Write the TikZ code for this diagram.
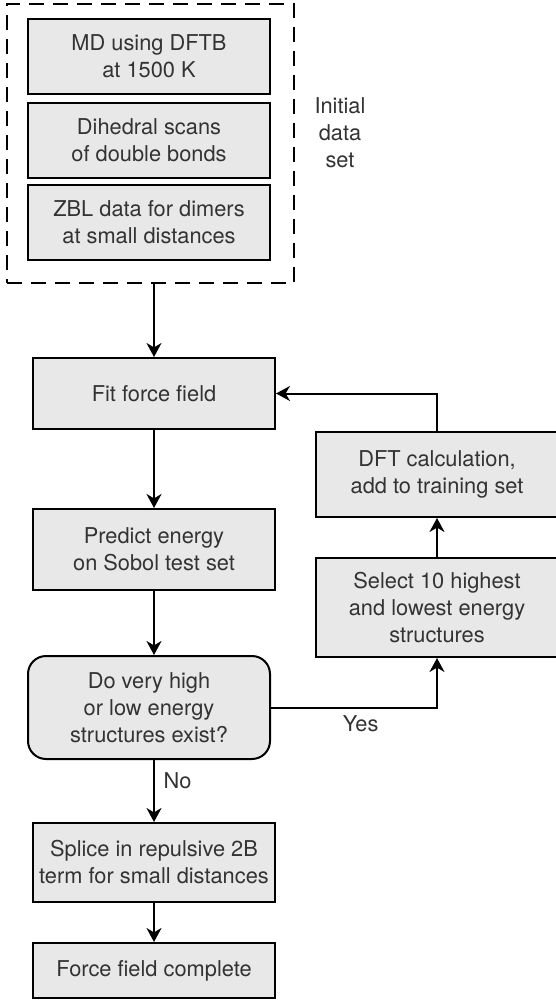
\documentclass[tikz,border=0pt]{standalone}
\usepackage{fontspec}
\setmainfont{TeX Gyre Heros}
\usepackage{tikz}
\usetikzlibrary{arrows.meta}
\definecolor{boxgray}{HTML}{E8E8E8}
\definecolor{txtgray}{HTML}{333333}

\begin{document}
\begin{tikzpicture}[x=0.5pt,y=-0.5pt,
    every node/.style={text=txtgray,font=\fontsize{10.9}{13.5}\selectfont,align=center},
    box/.style={draw=black,line width=1pt,fill=boxgray,inner sep=0pt},
    dashbox/.style={draw=black,line width=1pt,dash pattern=on 7.5pt off 4.5pt,inner sep=0pt,
      minimum width=143.5pt,minimum height=139.5pt},
    flow/.style={-{Stealth[length=7pt,width=7.5pt,inset=2.2pt]},line width=1pt}]
    \useasboundingbox (0,0) rectangle (556,1000);
    % initial data set
    \node[dashbox] (data) at (150.5,143.5) {};
    \node[box,minimum width=121pt,minimum height=37.5pt] (md) at (149,56.5) {MD using DFTB\\at 1500 K};
    \node[box,minimum width=121pt,minimum height=37.5pt] (dih) at (149,140.5) {Dihedral scans\\of double bonds};
    \node[box,minimum width=121pt,minimum height=37.5pt] (zbl) at (149,222.5) {ZBL data for dimers\\at small distances};
    \node (initlabel) at (340,133) {Initial\\data\\set};
    % main loop
    \node[box,minimum width=121pt,minimum height=35.5pt] (fit) at (154,393.5) {Fit force field};
    \node[box,minimum width=121pt,minimum height=40.5pt] (predict) at (154,549.5) {Predict energy\\on Sobol test set};
    \node[box,rounded corners=9pt,minimum width=121pt,minimum height=51.5pt] (decide) at (149,707.5)
      {Do very high\\or low energy\\structures exist?};
    \node[box,minimum width=121pt,minimum height=39.5pt] (splice) at (154,862.5)
      {Splice in repulsive 2B\\term for small distances};
    \node[box,minimum width=121pt,minimum height=27.5pt] (done) at (154,970.5) {Force field complete};
    \node[box,minimum width=121pt,minimum height=42.5pt] (dft) at (437,474.5) {DFT calculation,\\add to training set};
    \node[box,minimum width=121pt,minimum height=49.5pt] (select) at (437,607.5)
      {Select 10 highest\\and lowest energy\\structures};
    % connectors
    \draw[flow] (fit.north |- data.south) to (fit.north);
    \draw[flow] (fit) to (predict);
    \draw[flow] (predict.south) to (predict.south |- decide.north);
    \draw[flow] (predict.south |- decide.south) to node[right=1pt,pos=0.33] (nolabel) {No} (splice.north);
    \draw[flow] (splice) to (done);
    \draw[flow] (decide.east) -| (select.south) node[pos=0.27,below=0pt] (yeslabel) {Yes};
    \draw[flow] (select) to (dft);
    \draw[flow] (dft.north) |- (fit.east);
\end{tikzpicture}
\end{document}
